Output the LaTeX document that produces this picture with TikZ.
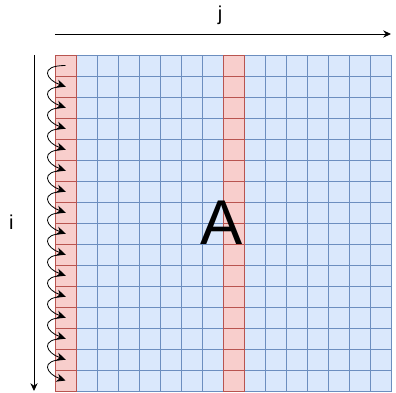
\documentclass[tikz,border=0pt]{standalone}
\usepackage{fontspec}
\setmainfont{Liberation Sans}
\usepackage{xcolor}
\usetikzlibrary{arrows.meta}

\definecolor{cellblue}{HTML}{DAE8FC}
\definecolor{lineblue}{HTML}{6C8EBF}
\definecolor{cellred}{HTML}{F8CECC}
\definecolor{linered}{HTML}{B85450}

\begin{document}
\begin{tikzpicture}[x=0.7cm,y=-0.7cm,>={Stealth[length=2.6mm,width=2.4mm]},
  cell/.style={draw=lineblue,fill=cellblue,minimum size=0.7cm,inner sep=0pt,line width=0.6pt},
  hot/.style={draw=linered,fill=cellred},
  lab/.style={font=\fontsize{19}{19}\selectfont,inner sep=0pt}]
\useasboundingbox (-2.619,-2.619) rectangle (16.238,16.048);
% blue cells first, red columns on top
\foreach \c in {1,...,7,9,10,...,15}
  \foreach \r in {0,...,15}
    \node[cell] (c\r-\c) at (\c+0.5,\r+0.5) {};
\foreach \c in {0,8}
  \foreach \r in {0,...,15}
    \node[cell,hot] (c\r-\c) at (\c+0.5,\r+0.5) {};
\node[font=\fontsize{60}{60}\selectfont,inner sep=0pt] (big) at (7.95,8) {A};
% axes
\coordinate (jfrom) at (0,-1);
\coordinate (jto) at (16,-1);
\coordinate (ifrom) at (-1,0);
\coordinate (ito) at (-1,16);
\draw[->,line width=0.8pt] (jfrom) -- (jto);
\draw[->,line width=0.8pt] (ifrom) -- (ito);
\node[lab] (jlab) at (7.86,-1.9) {j};
\node[lab] (ilab) at (-2.08,7.98) {i};
% curly steps down the first column
\foreach \r [count=\n] in {0,...,14}
  \draw[->,line width=0.75pt,>={Stealth[length=3mm,width=2.8mm]}]
    (c\r-0.center) .. controls +(-1.3,0) and +(-0.9,-0.3) .. (c\n-0.center);
\end{tikzpicture}
\end{document}
